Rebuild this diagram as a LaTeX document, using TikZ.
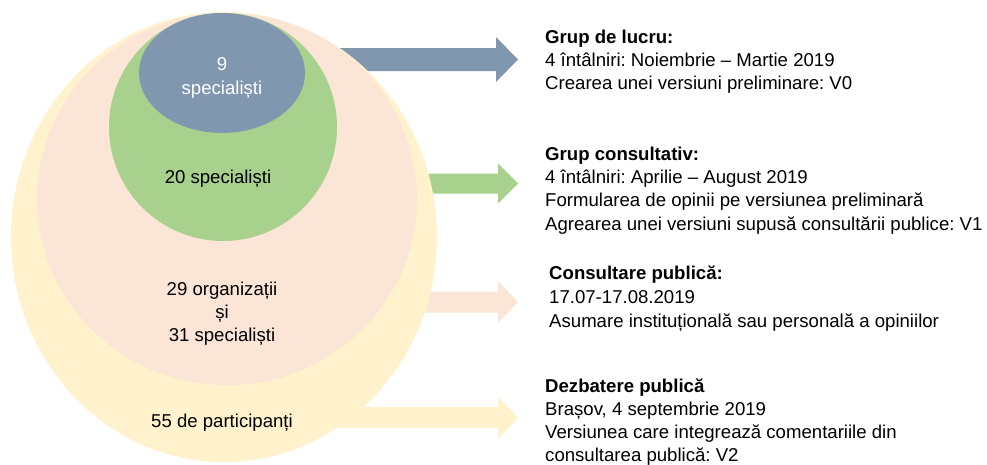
\documentclass[tikz,border=0pt]{standalone}
\usepackage{fontspec}
\setmainfont{Liberation Sans}
\frenchspacing
\definecolor{cblue}{HTML}{8197B0}
\definecolor{cgreen}{HTML}{A9D18E}
\definecolor{cpink}{HTML}{FBE5D6}
\definecolor{cyellow}{HTML}{FFF2CC}
\begin{document}
\begin{tikzpicture}[x=1pt,y=-1pt,
  txt/.style={inner sep=0pt,anchor=base west,font=\fontsize{18.6}{23}\selectfont,text=black},
  bold/.style={txt,font=\fontsize{18.6}{23}\selectfont\bfseries},
  ctxt/.style={inner sep=0pt,anchor=base,font=\fontsize{18.6}{23}\selectfont,text=black}]
\useasboundingbox (0,0) rectangle (987,464);
% arrows (behind the circles)
\fill[cblue] (230,48) -- (496,48) -- (496,37) -- (518,59.5) -- (496,82) -- (496,71) -- (230,71) -- cycle;
\fill[cgreen] (230,173.5) -- (498,173.5) -- (498,163.5) -- (518,183.5) -- (498,203.5) -- (498,193.5) -- (230,193.5) -- cycle;
\fill[cpink] (230,291.5) -- (498,291.5) -- (498,281) -- (518,302) -- (498,323) -- (498,312.5) -- (230,312.5) -- cycle;
\fill[cyellow] (230,407) -- (498,407) -- (498,397) -- (518,418) -- (498,439) -- (498,428) -- (230,428) -- cycle;
% nested ellipses
\fill[cyellow] (224,237) ellipse [x radius=213pt, y radius=225pt];
\fill[cpink] (227,199) ellipse [x radius=190pt, y radius=186pt];
\fill[cgreen] (223,127) ellipse [x radius=114pt, y radius=114pt];
\fill[cblue] (222,73) ellipse [x radius=83pt, y radius=60pt];
% circle labels
\node[ctxt,text=white] (b1) at (222,70) {9};
\node[ctxt,text=white] (b2) at (222,94) {specialiști};
\node[ctxt] (g1) at (218,183) {20 specialiști};
\node[ctxt] (p1) at (222,295) {29 organizații};
\node[ctxt] (p2) at (222,318) {și};
\node[ctxt] (p3) at (222,341) {31 specialiști};
\node[ctxt] (y1) at (222,427) {55 de participanți};
% right texts
\node[bold] (a1) at (545,43) {Grup de lucru:};
\node[txt] (a2) at (545,66) {4 întâlniri: Noiembrie – Martie 2019};
\node[txt] (a3) at (545,89) {Crearea unei versiuni preliminare: V0};
\node[bold] (c1) at (545,160) {Grup consultativ:};
\node[txt] (c2) at (545,183) {4 întâlniri: Aprilie – August 2019};
\node[txt] (c3) at (545,206) {Formularea de opinii pe versiunea preliminară};
\node[txt] (c4) at (545,230) {Agrearea unei versiuni supusă consultării publice: V1};
\node[bold] (d1) at (549,279) {Consultare publică:};
\node[txt] (d2) at (549,303) {17.07-17.08.2019};
\node[txt] (d3) at (549,327) {Asumare instituțională sau personală a opiniilor};
\node[bold] (e1) at (545,392) {Dezbatere publică};
\node[txt] (e2) at (545,415) {Brașov, 4 septembrie 2019};
\node[txt] (e3) at (545,438) {Versiunea care integrează comentariile din};
\node[txt] (e4) at (545,461) {consultarea publică: V2};
\end{tikzpicture}
\end{document}
